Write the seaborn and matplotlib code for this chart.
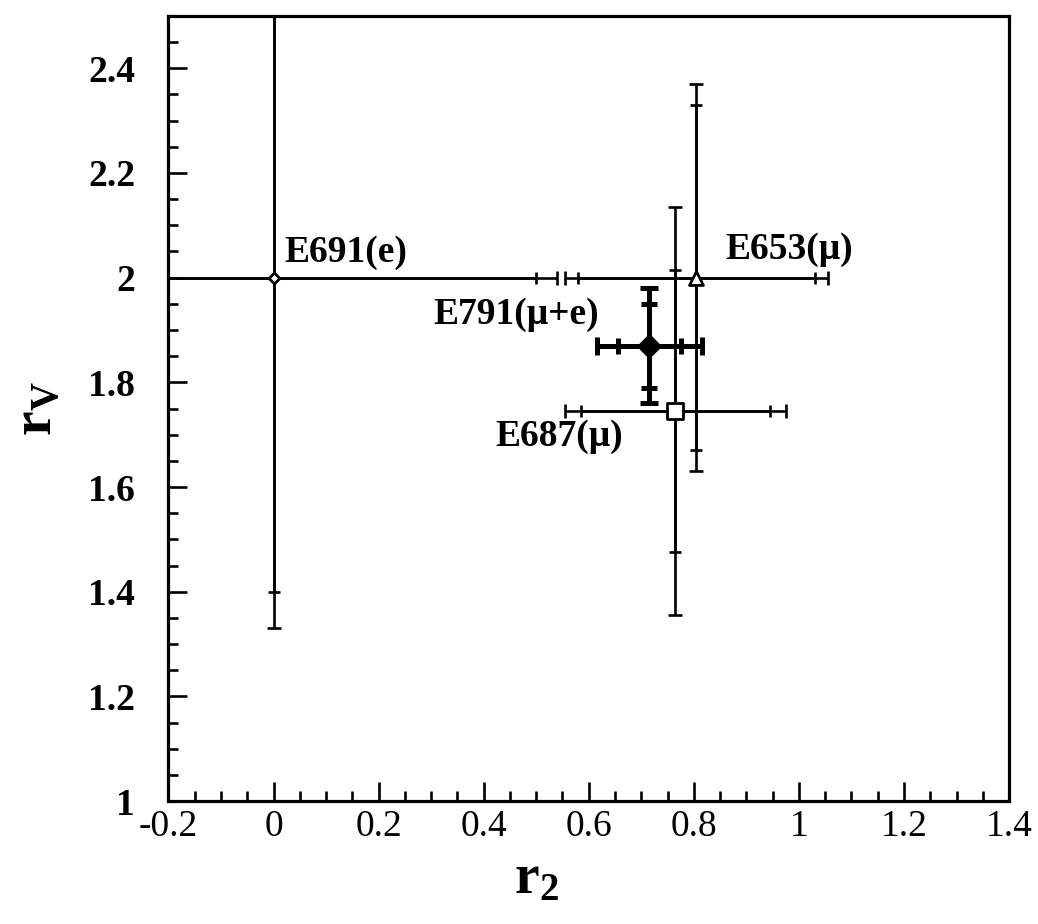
import matplotlib
matplotlib.use("Agg")
import matplotlib.pyplot as plt
from matplotlib.ticker import MultipleLocator, FuncFormatter
import pandas as pd
import seaborn as sns

# ---- data ----
experiments = ["E691(e)", "E653(\u03bc)", "E687(\u03bc)", "E791(\u03bc+e)"]
r2 = [0.0, 0.805, 0.765, 0.715]
rv = [2.0, 2.0, 1.745, 1.87]
r2_stat = [0.50, 0.225, 0.18, 0.06]
r2_total = [0.54, 0.25, 0.21, 0.10]
rv_stat = [0.60, 0.33, 0.27, 0.08]
rv_total = [0.67, 0.37, 0.39, 0.11]
x_ticks = [-0.2, 0.0, 0.2, 0.4, 0.6, 0.8, 1.0, 1.2, 1.4]
y_ticks = [1.0, 1.2, 1.4, 1.6, 1.8, 2.0, 2.2, 2.4]

df = pd.DataFrame({"exp": experiments, "r2": r2, "rv": rv,
                   "r2_stat": r2_stat, "r2_total": r2_total,
                   "rv_stat": rv_stat, "rv_total": rv_total})

sns.set_theme(style="ticks")
plt.rcParams["font.family"] = ["Liberation Serif", "DejaVu Serif"]
plt.rcParams["mathtext.fontset"] = "custom"
plt.rcParams["mathtext.rm"] = "Liberation Serif"
plt.rcParams["mathtext.bf"] = "Liberation Serif:bold"
plt.rcParams["mathtext.it"] = "Liberation Serif:italic"
plt.rcParams["axes.unicode_minus"] = False
for key in ["text.color", "axes.labelcolor", "xtick.color", "ytick.color",
            "xtick.labelcolor", "ytick.labelcolor", "axes.edgecolor"]:
    plt.rcParams[key] = "black"

fig = plt.figure(figsize=(10.38, 9.24), dpi=100)
ax = fig.add_axes([0.1623, 0.1331, 0.8098, 0.8496])

styles = {
    "E691(e)":      dict(marker="D", ms=5.5, fill="white", lw=1.9, cap_out=5.0, cap_in=4.5,
                         tx=0.02, ty=2.03, ha="left"),
    "E653(\u03bc)":  dict(marker="^", ms=10, fill="white", lw=1.9, cap_out=5.0, cap_in=4.5,
                         tx=0.86, ty=2.035, ha="left"),
    "E687(\u03bc)":  dict(marker="s", ms=11, fill="white", lw=1.9, cap_out=5.0, cap_in=4.5,
                         tx=0.665, ty=1.678, ha="right"),
    "E791(\u03bc+e)": dict(marker="D", ms=11, fill="black", lw=3.6, cap_out=6.5, cap_in=6.0,
                         tx=0.62, ty=1.912, ha="right"),
}

for _, row in df.iterrows():
    st = styles[row["exp"]]
    ax.errorbar(row["r2"], row["rv"], xerr=row["r2_total"], yerr=row["rv_total"],
                fmt="none", ecolor="black", elinewidth=st["lw"],
                capsize=st["cap_out"], capthick=st["lw"], zorder=2)
    ax.errorbar(row["r2"], row["rv"], xerr=row["r2_stat"], yerr=row["rv_stat"],
                fmt="none", ecolor="black", elinewidth=st["lw"],
                capsize=st["cap_in"], capthick=st["lw"], zorder=2)
    sns.scatterplot(x=[row["r2"]], y=[row["rv"]], marker=st["marker"],
                    s=st["ms"] ** 2, facecolor=st["fill"], edgecolor="black",
                    linewidth=2.0, zorder=5, ax=ax, legend=False)
    ax.text(st["tx"], st["ty"], row["exp"], ha=st["ha"], va="baseline",
            fontsize=27, fontweight="bold", color="black", zorder=6)

ax.set_xlim(-0.2, 1.4)
ax.set_ylim(1.0, 2.5)
ax.set_xticks(x_ticks)
ax.set_yticks(y_ticks)
fmt = FuncFormatter(lambda v, p: "%g" % round(v, 2))
ax.xaxis.set_major_formatter(fmt)
ax.yaxis.set_major_formatter(fmt)
ax.xaxis.set_minor_locator(MultipleLocator(0.05))
ax.yaxis.set_minor_locator(MultipleLocator(0.05))

ax.tick_params(which="both", direction="in", top=False, right=False,
               color="black", labelcolor="black", width=1.9)
ax.tick_params(which="major", length=14)
ax.tick_params(which="minor", length=7)
ax.tick_params(axis="x", which="major", labelsize=27, pad=6)
ax.tick_params(axis="y", which="major", labelsize=27, pad=24)
for lab in ax.get_yticklabels():
    lab.set_fontweight("bold")

for sp in ax.spines.values():
    sp.set_visible(True)
    sp.set_linewidth(2.3)
    sp.set_color("black")

ax.set_xlabel(r"$\mathbf{r}_{\mathbf{2}}$", fontsize=40, color="black")
ax.set_ylabel(r"$\mathbf{r}_{\mathbf{V}}$", fontsize=40, color="black")
ax.xaxis.label.set_va("center")
ax.yaxis.label.set_va("center")
ax.xaxis.set_label_coords(0.438, -0.10)
ax.yaxis.set_label_coords(-0.155, 0.50)
ax.grid(False)
ax.set_facecolor("white")
fig.patch.set_facecolor("white")

fig.savefig("out.png", dpi=100, facecolor="white")
